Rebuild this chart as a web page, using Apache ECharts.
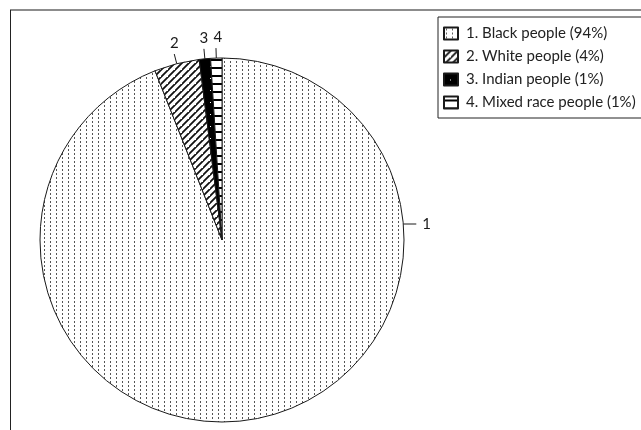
<!DOCTYPE html>
<html>
<head>
<meta charset="utf-8">
<script src="https://cdn.jsdelivr.net/npm/echarts@6/dist/echarts.min.js"></script>
<style>
  html, body { margin: 0; padding: 0; background: #fff; }
  #chart { width: 641px; height: 430px; }
</style>
</head>
<body>
<div id="chart"></div>
<script>
// Population groups and their shares (%)
const categories = ['Black people', 'White people', 'Indian people', 'Mixed race people'];
const shares = [94, 4, 1, 1];
const sliceLabels = ['1', '2', '3', '4'];

const PIE_CENTER = [222, 240];
const PIE_RADIUS = 182;

// Small canvas tiles used as fill patterns
function tile(w, h, draw) {
  const c = document.createElement('canvas');
  c.width = w; c.height = h;
  const g = c.getContext('2d');
  g.fillStyle = '#fff';
  g.fillRect(0, 0, w, h);
  draw(g, w, h);
  return { image: c, repeat: 'repeat' };
}
const dotted = tile(6, 4, g => { g.fillStyle = '#555'; g.fillRect(2, 1, 1, 2); });
const hatched = tile(7, 7, (g, w, h) => {
  g.strokeStyle = '#111'; g.lineWidth = 1.8;
  g.beginPath();
  g.moveTo(-1, h + 1); g.lineTo(w + 1, -1);
  g.moveTo(-1 - w, h + 1); g.lineTo(1, -1);
  g.moveTo(w - 1, 2 * h + 1); g.lineTo(2 * w + 1, h - 1);
  g.stroke();
});
const solid = tile(12, 12, g => { g.fillStyle = '#000'; g.fillRect(0, 0, 12, 12); g.fillStyle = '#fff'; g.fillRect(6, 6, 1, 1); });
const striped = tile(8, 8, g => { g.fillStyle = '#000'; g.fillRect(0, 3, 8, 2); });
const fills = [dotted, hatched, solid, striped];

const total = shares.reduce((a, b) => a + b, 0);
// clockwise angle (deg, from 12 o'clock) of each slice's middle
const midAngles = [];
let acc = 0;
shares.forEach(v => {
  const a = v / total * 360;
  midAngles.push(acc + a / 2);
  acc += a;
});

function edgePoint(deg, r) {
  const t = deg * Math.PI / 180;
  return [PIE_CENTER[0] + r * Math.sin(t), PIE_CENTER[1] - r * Math.cos(t)];
}

const chart = echarts.init(document.getElementById('chart'), null, { renderer: 'canvas' });

chart.setOption({
  animation: false,
  backgroundColor: '#fff',
  textStyle: { fontFamily: 'Lato, "Open Sans", sans-serif' },
  graphic: [
    { type: 'line', shape: { x1: 10, y1: 10, x2: 641, y2: 10 }, style: { stroke: '#8c8c8c', lineWidth: 2 } },
    { type: 'line', shape: { x1: 10.5, y1: 10, x2: 10.5, y2: 430 }, style: { stroke: '#222', lineWidth: 1 } }
  ],
  legend: {
    orient: 'vertical',
    left: 438,
    top: 17,
    padding: [9, 8, 8, 5],
    itemWidth: 14,
    itemHeight: 12,
    itemGap: 8,
    borderColor: '#222',
    borderWidth: 1,
    borderRadius: 0,
    icon: 'rect',
    textStyle: { fontSize: 15, lineHeight: 15, color: '#222', padding: [0, 0, 0, 3], fontFamily: 'Lato, sans-serif' },
    formatter: name => {
      const i = categories.indexOf(name);
      return (i + 1) + '. ' + name + ' (' + shares[i] + '%)';
    }
  },
  series: [{
    type: 'pie',
    center: PIE_CENTER,
    radius: PIE_RADIUS,
    startAngle: 90,
    clockwise: true,
    avoidLabelOverlap: false,
    data: categories.map((name, i) => ({
      name,
      value: shares[i],
      itemStyle: { color: fills[i] }
    })),
    itemStyle: { borderColor: '#1a1a1a', borderWidth: 1 },
    emphasis: { disabled: true },
    label: {
      show: true,
      position: 'outside',
      formatter: p => sliceLabels[p.dataIndex],
      fontSize: 15,
      color: '#1a1a1a',
      fontFamily: 'Lato, sans-serif'
    },
    labelLine: { show: true, length: 10, length2: 0, lineStyle: { color: '#1a1a1a', width: 1 } },
    labelLayout: p => {
      const i = p.dataIndex;
      if (i === 0) {
        // label of the large slice sits on the right side
        const y = 224;
        const x0 = PIE_CENTER[0] + Math.sqrt(PIE_RADIUS * PIE_RADIUS - (y - PIE_CENTER[1]) ** 2);
        return {
          x: x0 + 19, y: y, align: 'left', verticalAlign: 'middle',
          labelLinePoints: [[x0, y], [x0 + 13, y], [x0 + 13, y]]
        };
      }
      const a = midAngles[i];
      const p0 = edgePoint(a, PIE_RADIUS);
      const p1 = edgePoint(a, PIE_RADIUS + 10);
      return {
        x: p1[0] + (i === 3 ? 2 : 0), y: p1[1] - 3, align: 'center', verticalAlign: 'bottom',
        labelLinePoints: [p0, p1, p1]
      };
    }
  }]
});
</script>
</body>
</html>
